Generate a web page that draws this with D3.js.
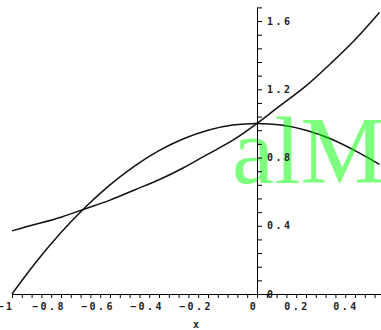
<!DOCTYPE html>
<html>
<head>
<meta charset="utf-8">
<script src="https://cdn.jsdelivr.net/npm/d3@7"></script>
<style>
  body { margin: 0; background: #fff; }
  svg { display: block; }
  .lbl { font-family: "DejaVu Sans Mono", monospace; font-size: 10px; font-weight: bold; letter-spacing: 2.5px; fill: #222; }
</style>
</head>
<body>
<div id="chart"></div>
<script>
// values
const xValues = [-1, -0.9, -0.8, -0.7, -0.6, -0.5, -0.4, -0.3, -0.2, -0.1, 0, 0.1, 0.2, 0.3, 0.4, 0.5];
const risingCurve = [0.37, 0.41, 0.45, 0.50, 0.55, 0.61, 0.67, 0.74, 0.82, 0.90, 1.00, 1.11, 1.22, 1.35, 1.49, 1.65];
const humpCurve = [0, 0.19, 0.36, 0.51, 0.64, 0.75, 0.84, 0.91, 0.96, 0.99, 1.00, 0.99, 0.96, 0.91, 0.84, 0.76];
const xTickLabels = [-1, -0.8, -0.6, -0.4, -0.2, 0, 0.2, 0.4];
const yTickLabels = [0, 0.4, 0.8, 1.2, 1.6];
const xTitle = "x";
const watermark = "alM";

const width = 381, height = 330;

const x = d3.scaleLinear().domain([-1, 0.5]).range([12, 379.5]);
const y = d3.scaleLinear().domain([0, 1.68]).range([294, 7.4]);

const svg = d3.select("#chart")
    .append("svg")
    .attr("width", width)
    .attr("height", height);

const fmt = d => d === 0 ? "0" : String(d).replace("-", "\u2212");

const line = d3.line()
    .x(d => x(d[0]))
    .y(d => y(d[1]))
    .curve(d3.curveNatural);

[risingCurve, humpCurve].forEach(vals => {
    svg.append("path")
        .datum(xValues.map((v, i) => [v, vals[i]]))
        .attr("fill", "none")
        .attr("stroke", "#111")
        .attr("stroke-width", 1.5)
        .attr("d", line);
});

// green watermark over the curves
svg.append("text")
    .attr("x", 232)
    .attr("y", 183)
    .attr("font-family", "Liberation Serif, Times New Roman, serif")
    .attr("font-size", 95)
    .attr("fill", "rgb(0,255,0)")
    .attr("fill-opacity", 0.5)
    .text(watermark);

// x axis, minor ticks every 0.04
const xMinor = d3.range(0, 38).map(k => +(-1 + 0.04 * k).toFixed(2));
const xAxis = svg.append("g")
    .attr("transform", "translate(0," + y(0) + ")")
    .call(d3.axisBottom(x).tickValues(xMinor).tickSize(4).tickSizeOuter(0).tickFormat(""));
xAxis.select(".domain").attr("d", "M" + x(-1) + ",0.5H" + width);

xAxis.selectAll(".lblx")
    .data(xTickLabels)
    .enter()
    .append("text")
    .attr("class", "lbl")
    .attr("x", d => x(d) - 3 * fmt(d).length)
    .attr("y", 15.5)
    .text(fmt);

// y axis, minor ticks every 0.08
const yMinor = d3.range(0, 22).map(k => +(0.08 * k).toFixed(2));
const yAxis = svg.append("g")
    .attr("transform", "translate(" + x(0) + ",0)")
    .call(d3.axisRight(y).tickValues(yMinor).tickSize(5).tickSizeOuter(0).tickFormat(""));

yAxis.selectAll(".lbly")
    .data(yTickLabels)
    .enter()
    .append("text")
    .attr("class", "lbl")
    .attr("x", 10)
    .attr("y", d => y(d))
    .attr("dy", "0.35em")
    .text(fmt);

svg.selectAll(".domain, .tick line").attr("stroke", "#000");

svg.append("text")
    .attr("class", "lbl")
    .attr("x", 193)
    .attr("y", 328)
    .text(xTitle);
</script>
</body>
</html>
